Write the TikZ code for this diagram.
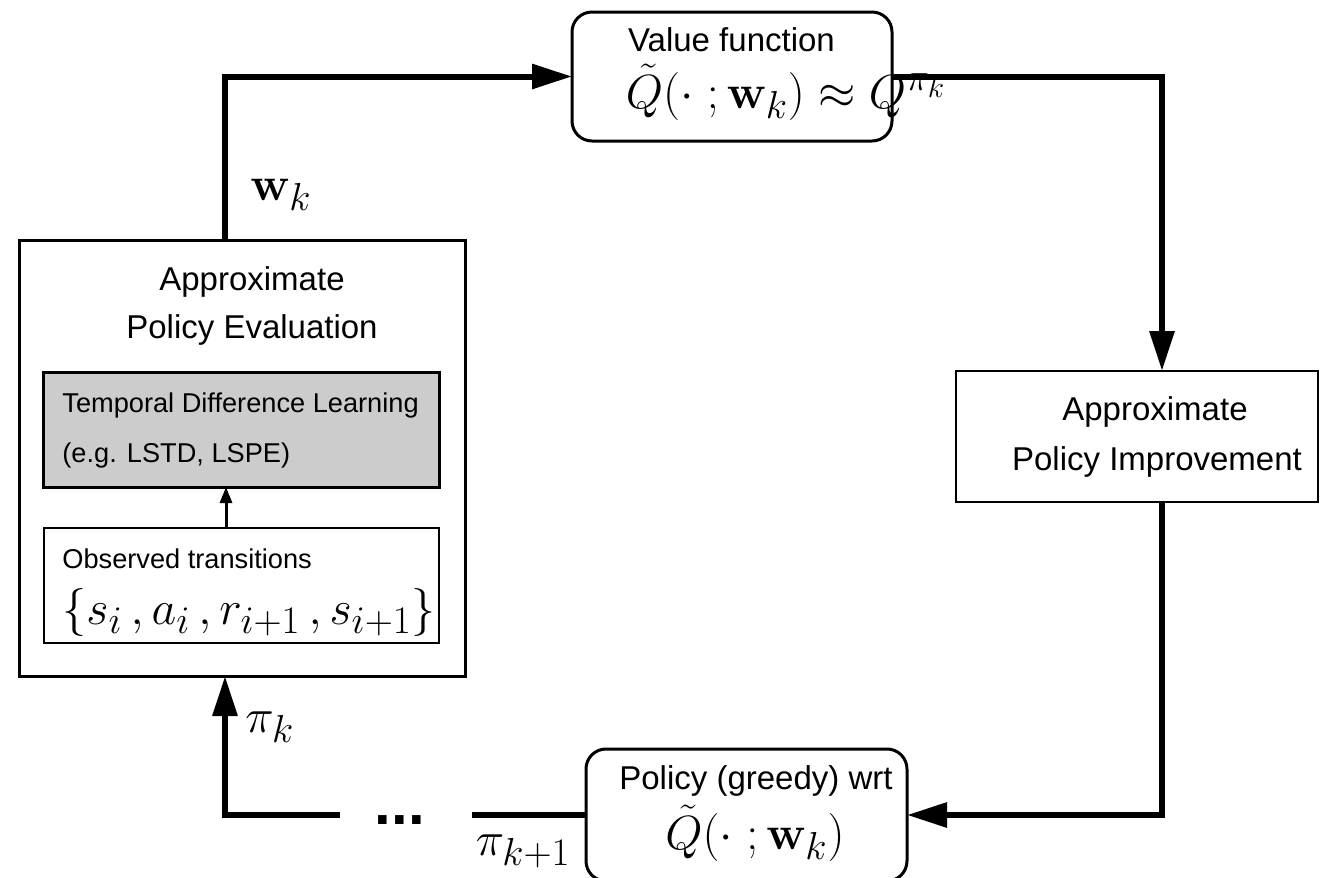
\RequirePackage{fix-cm}
\documentclass[tikz,border=0pt]{standalone}
\usepackage[no-math]{fontspec}
\setmainfont{Liberation Sans}
\usetikzlibrary{arrows.meta}
\DeclareMathSizes{24}{24}{19.5}{15}
\begin{document}
\begin{tikzpicture}[x=0.5pt,y=-0.5pt,
  box/.style={draw, inner sep=0pt, outer sep=0pt},
  flow/.style={line width=3pt, -{Triangle[length=20pt,width=12pt]}},
  flowline/.style={line width=3pt},
  bigtext/.style={font=\fontsize{16.5}{20}\selectfont, inner sep=0pt},
  smalltext/.style={font=\fontsize{13.6}{16}\selectfont, inner sep=0pt},
  bigmath/.style={font=\fontsize{24}{28}\selectfont, inner sep=0pt}]
\useasboundingbox (0,0) rectangle (1330,878);
% boxes
\node[box, rounded corners=10pt, line width=1.5pt, minimum width=160pt, minimum height=64.5pt] (vf) at (732,76.5) {};
\node[box, line width=1.5pt, minimum width=223pt, minimum height=218pt] (pe) at (242,458) {};
\node[box, line width=1.5pt, fill=black!20, minimum width=198pt, minimum height=57.5pt] (td) at (241,429.5) {};
\node[box, line width=1pt, minimum width=197.5pt, minimum height=57.5pt] (obs) at (241.5,585.5) {};
\node[box, line width=1.25pt, minimum width=181pt, minimum height=65.5pt] (pi) at (1137,436.5) {};
\node[box, rounded corners=10pt, line width=1.5pt, minimum width=160.5pt, minimum height=66pt] (pg) at (746.5,815) {};
% helper coordinates
\coordinate (colL) at (225,0);
\coordinate (colR) at (1162,0);
\coordinate (colS) at (226,0);
\coordinate (gapR) at (472,815);
\coordinate (gapL) at (340,815);
% connectors
\draw[flow] (pe.north -| colL) |- (vf.west);
\draw[flow] (vf.east) -| (pi.north -| colR);
\draw[flow] (pi.south -| colR) |- (pg.east);
\draw[flowline] (pg.west) -- (gapR);
\draw[flow] (gapL) -| (pe.south -| colL);
\draw[line width=1.5pt, -{Triangle[length=8pt,width=6pt]}] (obs.north -| colS) -- (td.south -| colS);
% texts
\node[bigtext, anchor=base] (peT1) at (252,290) {Approximate};
\node[bigtext, anchor=base] (peT2) at (252,338) {Policy Evaluation};
\node[smalltext, anchor=base west] (tdT1) at (62,412) {Temporal Difference Learning};
\node[smalltext, anchor=base west] (tdT2) at (62,462) {(e.g. LSTD, LSPE)};
\node[smalltext, anchor=base west] (obsT) at (62,568) {Observed transitions};
\node[bigmath, anchor=base west] (obsM) at (62,624) {$\{s_i\,, a_i\,, r_{i+1}\,, s_{i+1}\}$};
\node[bigtext, anchor=base] (vfT) at (731.5,51) {Value function};
\node[bigmath, anchor=base] (vfM) at (786,108) {$\tilde{Q}(\cdot\ ;\mathbf{w}_k)\approx Q^{\pi_k}$};
\node[bigtext, anchor=base] (piT1) at (1155,420) {Approximate};
\node[bigtext, anchor=base] (piT2) at (1157,470) {Policy Improvement};
\node[bigtext, anchor=base] (pgT) at (756,789) {Policy (greedy) wrt};
\node[bigmath, anchor=base] (pgM) at (755,849) {$\tilde{Q}(\cdot\ ;\mathbf{w}_k)$};
\node[bigmath, anchor=base west] (wk) at (250,200) {$\mathbf{w}_k$};
\node[bigmath, anchor=base west] (pik) at (245,732) {$\pi_k$};
\node[bigmath, anchor=base east] (pik1) at (571,855) {$\pi_{k+1}$};
\node[font=\fontsize{30}{34}\selectfont\bfseries, inner sep=0pt, anchor=base] (dots) at (400,824) {...};
\end{tikzpicture}
\end{document}
